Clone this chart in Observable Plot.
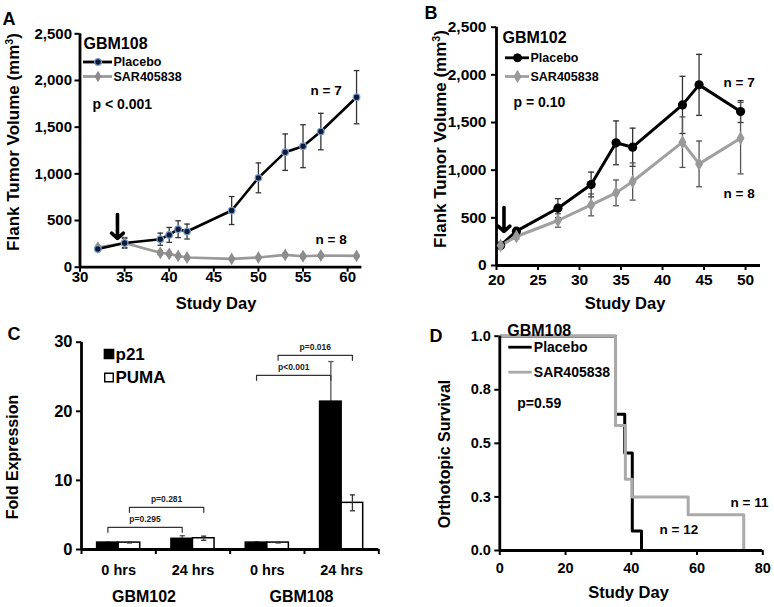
<!DOCTYPE html>
<html><head><meta charset="utf-8">
<script src="https://cdn.jsdelivr.net/npm/d3@7"></script>
<script src="https://cdn.jsdelivr.net/npm/@observablehq/plot@0.6"></script>
<style>
body{margin:0;background:#fff;}
#fig{position:relative;width:774px;height:607px;background:#fff;font-family:"Liberation Sans",Arial,Helvetica,sans-serif;overflow:hidden;}
.t{position:absolute;font-weight:bold;white-space:nowrap;line-height:1;color:#000;transform:translate(-50%,-50%);}
.r{transform:translate(-50%,-50%) rotate(-90deg);}
sup{font-size:0.62em;vertical-align:0.55em;line-height:0;}
</style></head><body><div id="fig"></div>
<script>
// ---------- Panel A : GBM108 flank ----------
const daysA = [32,35,39,40,41,42,47,50,53,55,57,61];
const placeboA = [195,260,300,346,407,382,607,957,1232,1296,1453,1821];
const placeboAErr = [15,50,65,80,90,80,150,160,195,230,195,285];
const sarA = [210,260,154,143,121,104,89,104,132,118,125,121];
const sarAErr = [20,58,22,18,15,15,10,15,18,20,18,10];
const yTicksA = [0,500,1000,1500,2000,2500];
const xTicksA = [30,35,40,45,50,55,60];

// ---------- Panel B : GBM102 flank ----------
const daysB = [20.5,22.4,27.4,31.4,34.4,36.4,42.4,44.4,49.4];
const placeboB = [210,360,601,850,1287,1241,1685,1895,1615];
const placeboBErr = [15,30,100,130,230,200,300,320,115];
const sarB = [210,304,472,636,762,881,1294,1066,1336];
const sarBErr = [15,25,70,115,135,195,265,240,375];
const yTicksB = [0,500,1000,1500,2000,2500];
const xTicksB = [20,25,30,35,40,45,50];

// ---------- Panel C : fold expression ----------
const groupsC = ["0 hrs","24 hrs","0 hrs","24 hrs"];
const linesC = ["GBM102","GBM108"];
const seriesC = ["p21","PUMA"];
const p21 = [1.0,1.55,1.0,21.4];
const p21Err = [0.05,0.45,0.08,5.8];
const puma = [1.0,1.63,1.0,6.75];
const pumaErr = [0.05,0.3,0.05,1.15];
const bracketLabels = ["p=0.295","p=0.281","p<0.001","p=0.016"];
const bracketFrom = [0,0,2,2];
const bracketTo = [1,1,3,3];
const bracketSeries = ["p21","PUMA","p21","PUMA"];
const bracketHeight = [3.2,6.1,25.2,28.1];
const yTicksC = [0,10,20,30];

// ---------- Panel D : survival ----------
const kmPlaceboDay = [0,35.2,38.0,40.3,43.1];
const kmPlaceboSurv = [1,0.636,0.455,0.091,0];
const kmSarDay = [0,35.2,38.2,40.3,57.3,74.2];
const kmSarSurv = [1,0.583,0.333,0.25,0.167,0];
const yTicksD = [0,0.25,0.5,0.75,1];
const yTickLabelsD = ["0.0","0.3","0.5","0.8","1.0"];
const xTicksD = [0,20,40,60,80];

// ---------- helpers ----------
const FONT = '"Liberation Sans", Arial, Helvetica, sans-serif';
const fig = document.getElementById("fig");
function mk(c){
  return {
    X: px => c.xd[0] + (px - c.fx0)/(c.fx1 - c.fx0)*(c.xd[1]-c.xd[0]),
    Y: py => c.yd[0] + (c.fy1 - py)/(c.fy1 - c.fy0)*(c.yd[1]-c.yd[0]),
    opts: {width:c.W, height:c.H, marginLeft:c.fx0-c.L, marginRight:c.L+c.W-c.fx1,
      marginTop:c.fy0-c.T, marginBottom:c.T+c.H-c.fy1,
      x:{domain:c.xd}, y:{domain:c.yd},
      style:{fontFamily:FONT, fontSize:"15px", fontWeight:"bold", color:"#000", background:"transparent", overflow:"visible"}},
    L:c.L, T:c.T
  };
}
function place(P, marks){
  const svg = Plot.plot({...P.opts, marks});
  svg.style.position="absolute"; svg.style.left=P.L+"px"; svg.style.top=P.T+"px";
  fig.appendChild(svg);
}
const cap = {draw(ctx,size){const w=Math.sqrt(size/Math.PI); ctx.moveTo(-w,0); ctx.lineTo(w,0);}};
function errMarks(rows, color, r){
  return [
    Plot.ruleX(rows,{x:"x", y1:d=>d.v-d.e, y2:d=>d.v+d.e, stroke:color, strokeWidth:1.3}),
    Plot.dot(rows,{x:"x", y:d=>d.v+d.e, symbol:cap, r, fill:"none", stroke:color, strokeWidth:1.3}),
    Plot.dot(rows,{x:"x", y:d=>d.v-d.e, symbol:cap, r, fill:"none", stroke:color, strokeWidth:1.3})
  ];
}
function txt(P, t, px, py, size, anchor="start", weight="bold"){
  return Plot.text([{t}],{x:()=>P.X(px), y:()=>P.Y(py), text:"t", fontSize:size, fontWeight:weight,
    textAnchor:anchor, lineAnchor:"middle", fill:"#000"});
}
function label(html, cx, cy, size, rot){
  const d = document.createElement("div");
  d.className = "t" + (rot ? " r" : "");
  d.style.left = cx+"px"; d.style.top = cy+"px"; d.style.fontSize = size+"px";
  d.innerHTML = html; fig.appendChild(d);
}
function legendLine(P, x0, x1, y, color, sym, r){
  const m = [Plot.ruleY([{y:P.Y(y)}],{y:"y", x1:P.X(x0), x2:P.X(x1), stroke:color, strokeWidth:2.8})];
  if (sym) m.push(Plot.dot([{x:P.X((x0+x1)/2), y:P.Y(y)}],{x:"x",y:"y",r, symbol:sym.symbol, fill:sym.fill, stroke:sym.stroke, strokeWidth:sym.sw||1}));
  return m;
}

// ---------- Panel A ----------
{
  const P = mk({L:0,T:0,W:390,H:310,fx0:79.5,fx1:361.4,fy0:33.3,fy1:266.7,xd:[30,61.6],yd:[0,2500]});
  const rp = daysA.map((x,i)=>({x, v:placeboA[i], e:placeboAErr[i]}));
  const rs = daysA.map((x,i)=>({x, v:sarA[i], e:sarAErr[i]}));
  const dotP = {symbol:"circle", fill:"#0b1a36", stroke:"#7d9fcc", sw:1.2};
  const dotS = {symbol:"diamond", fill:"#8c8c8c", stroke:"#8c8c8c", sw:1};
  place(P, [
    Plot.axisY({ticks:yTicksA, tickFormat:d3.format(","), tickSize:5, tickPadding:3, strokeWidth:2, fontSize:15, label:null}),
    Plot.axisX({ticks:xTicksA, tickSize:5, tickPadding:-1, strokeWidth:2, fontSize:15, label:null}),
    Plot.ruleX([30],{strokeWidth:2.8}),
    Plot.ruleY([0],{strokeWidth:2.8}),
    ...errMarks(rs, "#666", 2.8),
    ...errMarks(rp, "#333", 2.8),
    Plot.line(rs,{x:"x", y:"v", stroke:"#999", strokeWidth:2.6}),
    Plot.line(rp,{x:"x", y:"v", stroke:"#000", strokeWidth:2.6}),
    Plot.dot(rs,{x:"x", y:"v", symbol:"diamond", r:3, fill:"#8c8c8c", stroke:"#8c8c8c"}),
    Plot.dot(rp,{x:"x", y:"v", r:3.3, fill:"#0b1a36", stroke:"#7d9fcc", strokeWidth:1.2}),
    Plot.arrow([{x:34.2}],{x1:"x", x2:"x", y1:()=>P.Y(214), y2:()=>P.Y(238), stroke:"#000", strokeWidth:3.6, headLength:11, headAngle:95}),
    txt(P,"GBM108",83,43,16),
    ...legendLine(P,83,112,61.5,"#000",dotP,3.3),
    ...legendLine(P,83,112,76,"#999",dotS,3),
    txt(P,"Placebo",113,61.5,12.5),
    txt(P,"SAR405838",113,76,12.5),
    txt(P,"p < 0.001",92,104,14),
    txt(P,"n = 7",310,90,13.5),
    txt(P,"n = 8",315,239,13.5)
  ]);
}

// ---------- Panel B ----------
{
  const P = mk({L:390,T:0,W:384,H:310,fx0:496,fx1:760,fy0:26.7,fy1:265,xd:[20,51.8],yd:[0,2500]});
  const rp = daysB.map((x,i)=>({x, v:placeboB[i], e:placeboBErr[i]}));
  const rs = daysB.map((x,i)=>({x, v:sarB[i], e:sarBErr[i]}));
  const dotP = {symbol:"circle", fill:"#000", stroke:"#000"};
  const dotS = {symbol:"diamond", fill:"#999", stroke:"#999"};
  place(P, [
    Plot.axisY({ticks:yTicksB, tickFormat:d3.format(","), tickSize:5, tickPadding:5, strokeWidth:2, fontSize:15.5, label:null}),
    Plot.axisX({ticks:xTicksB, tickSize:5, tickPadding:3, strokeWidth:2, fontSize:15.5, label:null}),
    Plot.ruleX([20],{strokeWidth:2.8}),
    Plot.ruleY([0],{strokeWidth:2.8}),
    ...errMarks(rp, "#333", 3),
    Plot.line(rp,{x:"x", y:"v", stroke:"#000", strokeWidth:3}),
    ...errMarks(rs, "#555", 3),
    Plot.line(rs,{x:"x", y:"v", stroke:"#a0a0a0", strokeWidth:3}),
    Plot.dot(rp,{x:"x", y:"v", r:4.6, fill:"#000"}),
    Plot.dot(rs,{x:"x", y:"v", symbol:"diamond", r:4.2, fill:"#999"}),
    Plot.arrow([{x:20.9}],{x1:"x", x2:"x", y1:()=>P.Y(207), y2:()=>P.Y(231), stroke:"#000", strokeWidth:3.6, headLength:11, headAngle:95}),
    txt(P,"GBM102",502,37,16),
    ...legendLine(P,505,529,57.3,"#000",dotP,4),
    ...legendLine(P,505,529,76,"#a0a0a0",dotS,3.6),
    txt(P,"Placebo",530,57.3,12.5),
    txt(P,"SAR405838",530,76,12.5),
    txt(P,"p = 0.10",513,102,14),
    txt(P,"n = 7",723,82,13.5),
    txt(P,"n = 8",723,193,13.5)
  ]);
}

// ---------- Panel C ----------
{
  const P = mk({L:0,T:310,W:390,H:297,fx0:81,fx1:378.3,fy0:341.7,fy1:549,xd:[0,4],yd:[0,30]});
  const bw = 0.29;
  const rows = groupsC.flatMap((g,i)=>[
    {i, s:"p21", v:p21[i], e:p21Err[i], x:i+0.5-bw/2},
    {i, s:"PUMA", v:puma[i], e:pumaErr[i], x:i+0.5+bw/2}]);
  const rp = rows.filter(d=>d.s==="p21"), ru = rows.filter(d=>d.s==="PUMA");
  const centre = (i,s) => i+0.5+(s==="p21"?-bw/2:bw/2);
  const drop = 0.72;
  const br = bracketLabels.flatMap((t,k)=>{
    const a = centre(bracketFrom[k],bracketSeries[k]), b = centre(bracketTo[k],bracketSeries[k]), h = bracketHeight[k];
    return [{k,x:a,y:h-drop},{k,x:a,y:h},{k,x:b,y:h},{k,x:b,y:h-drop}];
  });
  const brText = bracketLabels.map((t,k)=>({t, x:(centre(bracketFrom[k],bracketSeries[k])+centre(bracketTo[k],bracketSeries[k]))/2, y:bracketHeight[k]+0.75}));
  place(P, [
    Plot.axisY({ticks:yTicksC, tickSize:5, tickPadding:4, strokeWidth:2, fontSize:16.5, label:null}),
    Plot.axisX({ticks:[0,1,2,3,4], tickFormat:()=>"", tickSize:5, strokeWidth:2, label:null}),
    Plot.axisX({ticks:[0.5,1.5,2.5,3.5], tickFormat:d=>groupsC[Math.floor(d)], tickSize:0, tickPadding:15, fontSize:14.5, label:null}),
    ...errMarks(rp, "#555", 2.6),
    Plot.rectY(rows,{x1:d=>d.x-bw/2, x2:d=>d.x+bw/2, y1:0, y2:"v", fill:d=>d.s==="p21"?"#000":"#fff", stroke:"#000", strokeWidth:1.5}),
    ...errMarks(ru, "#333", 2.6),
    Plot.ruleX([0],{strokeWidth:2.8}),
    Plot.ruleY([0],{strokeWidth:2.8}),
    Plot.line(br,{x:"x", y:"y", z:"k", stroke:"#333", strokeWidth:1.2}),
    Plot.text(brText,{x:"x", y:"y", text:"t", fontSize:8.5, fontWeight:"bold", fill:"#222", lineAnchor:"bottom"}),
    Plot.dot([{x:P.X(108.5), y:P.Y(353.5)}],{x:"x", y:"y", symbol:"square", r:5.2, fill:"#000", stroke:"#000"}),
    Plot.dot([{x:P.X(108.5), y:P.Y(377)}],{x:"x", y:"y", symbol:"square", r:4.8, fill:"#fff", stroke:"#000", strokeWidth:1.4}),
    txt(P,seriesC[0],115,354,17),
    txt(P,seriesC[1],115,377,17),
    txt(P,linesC[0],143.5,596.7,16,"middle"),
    txt(P,linesC[1],301,596.7,16,"middle")
  ]);
}

// ---------- Panel D ----------
{
  const P = mk({L:390,T:310,W:384,H:297,fx0:499.3,fx1:762.3,fy0:335.7,fy1:550,xd:[0,80],yd:[0,1]});
  const kp = kmPlaceboDay.map((x,i)=>({x, v:kmPlaceboSurv[i]}));
  const ks = kmSarDay.map((x,i)=>({x, v:kmSarSurv[i]}));
  place(P, [
    Plot.axisY({ticks:yTicksD, tickFormat:d=>yTickLabelsD[yTicksD.indexOf(d)], tickSize:5, tickPadding:4, strokeWidth:2, fontSize:14.5, label:null}),
    Plot.axisX({ticks:xTicksD, tickSize:5, tickPadding:7, strokeWidth:2, fontSize:14.5, label:null}),
    Plot.line(kp,{x:"x", y:"v", curve:"step-after", stroke:"#000", strokeWidth:3}),
    Plot.line(ks,{x:"x", y:"v", curve:"step-after", stroke:"#aaa", strokeWidth:3}),
    Plot.ruleX([0],{strokeWidth:2.8}),
    Plot.ruleY([0],{strokeWidth:2.8}),
    txt(P,"GBM108",506.7,330,16),
    ...legendLine(P,508.3,531.7,346.7,"#000",null),
    ...legendLine(P,508.3,531.7,371.7,"#aaa",null),
    txt(P,"Placebo",533.3,346.7,14),
    txt(P,"SAR405838",533.3,371.7,14),
    txt(P,"p=0.59",516.7,403,14),
    txt(P,"n = 11",730,501.7,13.5),
    txt(P,"n = 12",659,529,13.5)
  ]);
}

// ---------- HTML labels (panel letters, axis titles) ----------
label("A", 9, 19, 18);
label("B", 431, 12.5, 18);
label("C", 14, 334, 18);
label("D", 436, 336, 18);
label("Flank Tumor Volume (mm<sup>3</sup>)", 12.5, 142, 17, true);
label("Flank Tumor Volume (mm<sup>3</sup>)", 440, 139, 17, true);
label("Study Day", 216, 303, 16.5);
label("Study Day", 625, 303, 16.5);
label("Fold Expression", 13, 457, 16, true);
label("Orthotopic Survival", 445, 454, 16, true);
label("Study Day", 628.5, 592, 16.5);
</script>
</body></html>
